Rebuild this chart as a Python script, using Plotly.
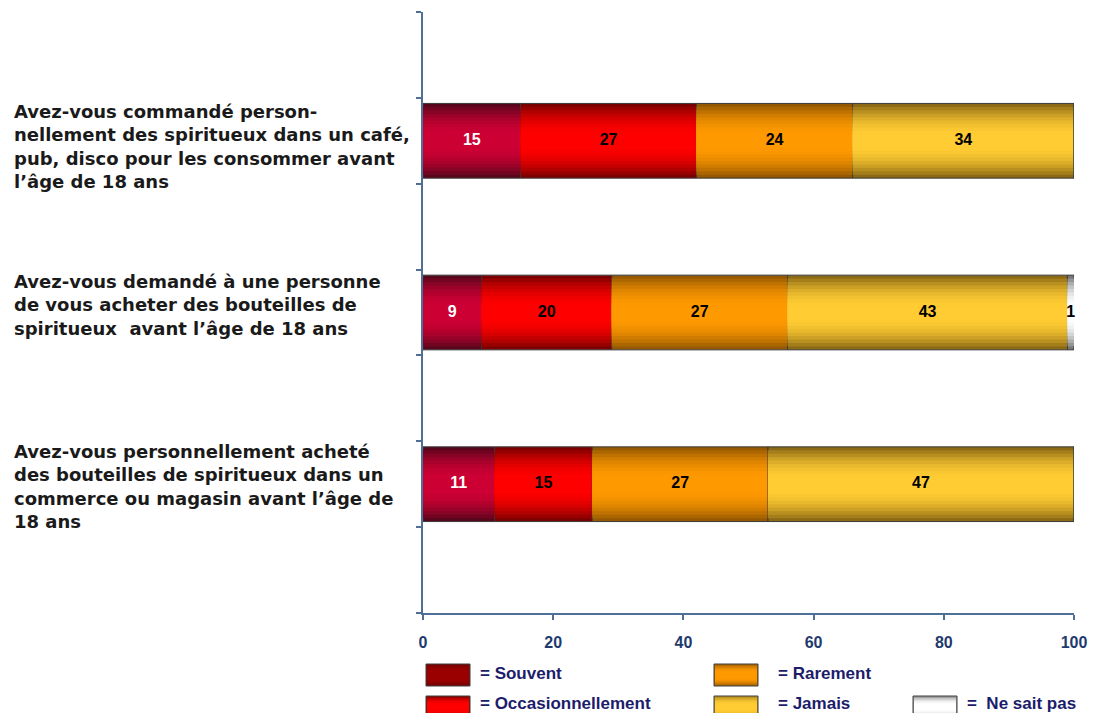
import plotly.graph_objects as go

# ---------------- data ----------------
questions = [
    "Avez-vous commandé person-<br>nellement des spiritueux dans un café,<br>pub, disco pour les consommer avant<br>l’âge de 18 ans",
    "Avez-vous demandé à une personne<br>de vous acheter des bouteilles de<br>spiritueux  avant l’âge de 18 ans",
    "Avez-vous personnellement acheté<br>des bouteilles de spiritueux dans un<br>commerce ou magasin avant l’âge de<br>18 ans",
]
series_names = ["Souvent", "Occasionnellement", "Rarement", "Jamais", "Ne sait pas"]
souvent = [15, 9, 11]
occasionnellement = [27, 20, 15]
rarement = [24, 27, 27]
jamais = [34, 43, 47]
ne_sait_pas = [0, 1, 0]
x_ticks = [0, 20, 40, 60, 80, 100]
legend_labels = ["= Souvent", "= Occasionnellement", "= Rarement", "= Jamais", "=  Ne sait pas"]

series_values = [souvent, occasionnellement, rarement, jamais, ne_sait_pas]

# ---------------- style ----------------
edge_cols = [(88, 6, 28), (125, 0, 0), (150, 88, 0), (140, 105, 20), (120, 120, 120)]
center_cols = [(205, 0, 52), (255, 0, 0), (255, 153, 0), (255, 204, 51), (255, 255, 255)]
leg_edge_cols = [(120, 0, 0), (140, 0, 0), (170, 100, 0), (180, 140, 30), (150, 150, 150)]
leg_center_cols = [(155, 0, 0), (255, 0, 0), (255, 153, 0), (255, 204, 51), (255, 255, 255)]
text_cols = ["white", "black", "black", "black", "black"]
y_pos = [1.5, 3.5, 5.5]
BAR_W = 0.87
N_LAYERS = 10
AXIS_COL = "#4f6f96"


def mix(a, b, t):
    return "rgb(%d,%d,%d)" % tuple(round(a[i] + (b[i] - a[i]) * t) for i in range(3))


fig = go.Figure()

cum = [0, 0, 0]
txt_x, txt_y, txt_s, txt_c = [], [], [], []
for si, (name, vals) in enumerate(zip(series_names, series_values)):
    bases = list(cum)
    for k in range(N_LAYERS):
        t = k / (N_LAYERS - 1)
        tt = 1 - (1 - t) ** 2
        w = BAR_W * (1 - 0.92 * k / N_LAYERS)
        fig.add_trace(go.Bar(
            y=y_pos, x=vals, base=bases, orientation="h", width=w,
            marker=dict(color=mix(edge_cols[si], center_cols[si], tt),
                        line=dict(color="#3a3a3a", width=1 if k == 0 else 0)),
            showlegend=False, hoverinfo="skip", name=name,
        ))
    for i, v in enumerate(vals):
        if v > 0:
            txt_x.append(bases[i] + v / 2)
            txt_y.append(y_pos[i])
            txt_s.append(str(v))
            txt_c.append(text_cols[si])
    cum = [c + v for c, v in zip(cum, vals)]

fig.add_trace(go.Scatter(
    x=txt_x, y=txt_y, text=txt_s, mode="text",
    textfont=dict(color=txt_c, size=16, family="Liberation Sans, Arial", weight="bold"),
    showlegend=False, hoverinfo="skip", cliponaxis=False,
))

# question labels
label_shift = [-6, 8, -2]
for q, yp, sh in zip(questions, y_pos, label_shift):
    fig.add_annotation(
        x=-0.631, xref="paper", y=yp, yref="y", xanchor="left", yanchor="middle",
        text=q, align="left", showarrow=False, yshift=sh,
        font=dict(size=18, family="DejaVu Sans, Verdana", color="#1a1a1a", weight="bold"),
    )

# custom legend
PLOT_L, PLOT_W, PLOT_B, PLOT_H = 423, 651, 613, 601


def px_x(p):
    return (p - PLOT_L) / PLOT_W


def px_y(p):
    return (PLOT_B - p) / PLOT_H


legend_pos = [  # (box left px, box center px, text left px, text center px)
    (426, 675, 478, 673),
    (426, 707, 478, 703),
    (714, 675, 776, 673),
    (714, 707, 776, 703),
    (913, 707, 965, 703),
]
for si, ((bx, cy, tx, ty), lab) in enumerate(zip(legend_pos, legend_labels)):
    n = 5
    for k in range(n):
        t = k / (n - 1)
        tt = 1 - (1 - t) ** 2
        h = 11 * (1 - 0.85 * k / n)
        fig.add_shape(
            type="rect", xref="paper", yref="paper",
            x0=px_x(bx + (0 if k == 0 else 1)), x1=px_x(bx + 44 - (0 if k == 0 else 1)),
            y0=px_y(cy + h), y1=px_y(cy - h),
            fillcolor=mix(leg_edge_cols[si], leg_center_cols[si], tt),
            line=dict(color="#404040", width=1 if k == 0 else 0),
            layer="above",
        )
    fig.add_annotation(
        x=px_x(tx), xref="paper", y=px_y(ty), yref="paper", xanchor="left", yanchor="middle",
        text=lab, showarrow=False,
        font=dict(size=17, family="Liberation Sans Narrow, Arial Narrow, Liberation Sans", color="#1c1c6b", weight="bold"),
    )

fig.update_layout(
    barmode="overlay",
    width=1100, height=713,
    margin=dict(l=423, r=26, t=12, b=100),
    plot_bgcolor="white", paper_bgcolor="white",
    xaxis=dict(range=[0, 100], tickvals=x_ticks, showgrid=False, zeroline=False,
               showline=True, linecolor=AXIS_COL, linewidth=2, ticks="outside", ticklen=5,
               tickcolor=AXIS_COL, tickwidth=2, ticklabelstandoff=9,
               tickfont=dict(size=16, family="Liberation Sans, Arial", color="#1f3a6e", weight="bold")),
    yaxis=dict(range=[7, 0], tickvals=list(range(8)), showticklabels=False, showgrid=False,
               zeroline=False, showline=True, linecolor=AXIS_COL, linewidth=2,
               ticks="outside", ticklen=5, tickcolor=AXIS_COL, tickwidth=2),
)

fig.write_html("out.html")
